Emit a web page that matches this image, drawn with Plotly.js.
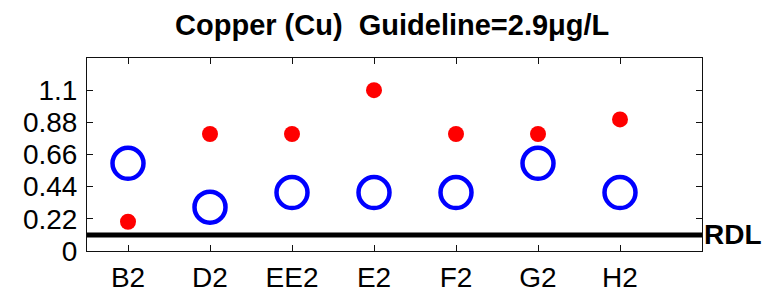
<!DOCTYPE html>
<html>
<head>
<meta charset="utf-8">
<script src="https://cdn.plot.ly/plotly-3.0.1.min.js"></script>
<style>html,body{margin:0;padding:0;background:#fff;}#chart{width:766px;height:295px;}</style>
</head>
<body>
<div id="chart"></div>
<script>
const sites = ["B2", "D2", "EE2", "E2", "F2", "G2", "H2"];
const sitePositions = [1, 2, 3, 4, 5, 6, 7];
const redValues = [0.2, 0.8, 0.8, 1.1, 0.8, 0.8, 0.9];
const blueValues = [0.6, 0.3, 0.4, 0.4, 0.4, 0.6, 0.4];
const yTickVals = [0, 0.22, 0.44, 0.66, 0.88, 1.1];
const yTickText = ["0", "0.22", "0.44", "0.66", "0.88", "1.1"];
const rdlValue = 0.11;
const titleText = "Copper (Cu)  Guideline=2.9\u03bcg/L";

const font = "Liberation Sans, Arial, sans-serif";

const traces = [
  {
    x: sitePositions, y: blueValues, type: "scatter", mode: "markers",
    marker: {symbol: "circle-open", size: 31, color: "#0000ff", line: {width: 4.5, color: "#0000ff"}},
    hoverinfo: "skip", showlegend: false
  },
  {
    x: sitePositions, y: redValues, type: "scatter", mode: "markers",
    marker: {symbol: "circle", size: 16, color: "#ff0000"},
    hoverinfo: "skip", showlegend: false
  }
];

const layout = {
  width: 766, height: 295,
  margin: {l: 87, r: 64, t: 58, b: 44, pad: 0},
  paper_bgcolor: "#ffffff", plot_bgcolor: "#ffffff",
  title: {text: "<b>" + titleText + "</b>", font: {family: font, size: 29, color: "#000"}, x: 0.512, xanchor: "center", y: 0.915, yanchor: "middle"},
  xaxis: {
    range: [0.5, 8], tickvals: sitePositions, ticktext: sites,
    ticks: "inside", ticklen: 6, tickwidth: 1, tickcolor: "#111",
    showline: true, linecolor: "#111", linewidth: 1, mirror: "ticks",
    showgrid: false, zeroline: false, ticklabelstandoff: 1,
    tickfont: {family: font, size: 28, color: "#000"}, fixedrange: true
  },
  yaxis: {
    range: [0, 1.32], tickvals: yTickVals, ticktext: yTickText,
    ticks: "inside", ticklen: 6, tickwidth: 1, tickcolor: "#111",
    showline: true, linecolor: "#111", linewidth: 1, mirror: "ticks",
    showgrid: false, zeroline: false, ticklabelstandoff: 3,
    tickfont: {family: font, size: 28, color: "#000"}, fixedrange: true
  },
  shapes: [
    {type: "line", xref: "paper", x0: 0, x1: 1, yref: "y", y0: rdlValue, y1: rdlValue, line: {color: "#000", width: 5}}
  ],
  annotations: [
    {text: "<b>RDL</b>", xref: "paper", x: 1, xanchor: "left", xshift: 0, yref: "y", y: rdlValue, yanchor: "middle", showarrow: false, font: {family: font, size: 28, color: "#000"}}
  ]
};

Plotly.newPlot("chart", traces, layout, {displayModeBar: false, staticPlot: true});
</script>
</body>
</html>
